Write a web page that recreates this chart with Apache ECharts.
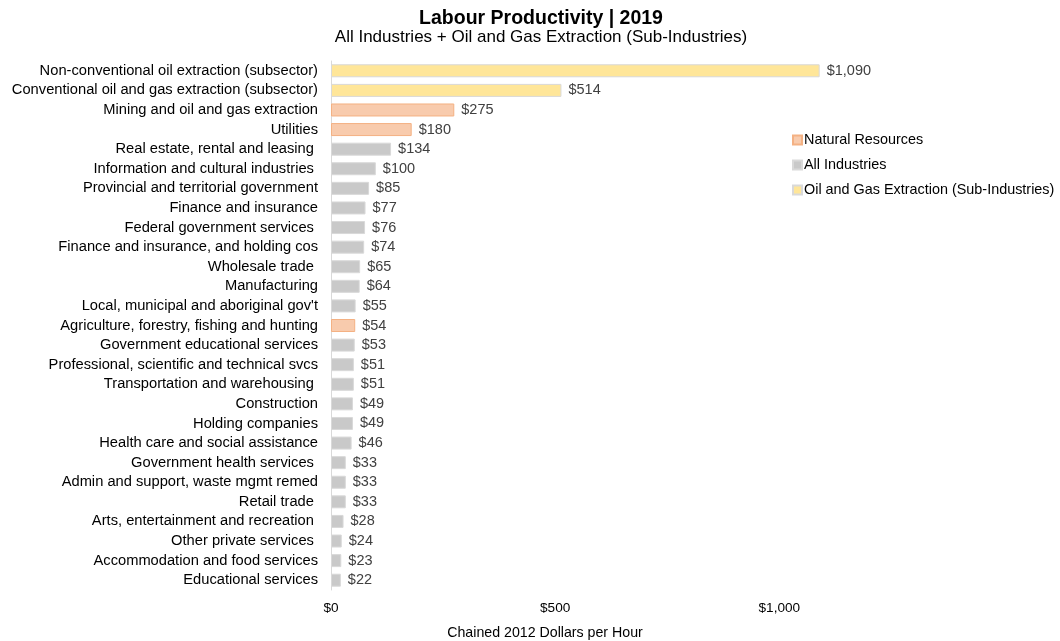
<!DOCTYPE html>
<html>
<head>
<meta charset="utf-8">
<script src="https://cdn.jsdelivr.net/npm/echarts@6/dist/echarts.min.js"></script>
<style>
  html, body { margin: 0; padding: 0; background: #fff; }
  #chart { width: 1060px; height: 641px; }
</style>
</head>
<body>
<div id="chart"></div>
<script>
const categories = [
  'Non-conventional oil extraction (subsector)',
  'Conventional oil and gas extraction (subsector)',
  'Mining and oil and gas extraction',
  'Utilities',
  'Real estate, rental and leasing ',
  'Information and cultural industries ',
  'Provincial and territorial government',
  'Finance and insurance',
  'Federal government services ',
  'Finance and insurance, and holding cos',
  'Wholesale trade ',
  'Manufacturing',
  "Local, municipal and aboriginal gov't",
  'Agriculture, forestry, fishing and hunting',
  'Government educational services',
  'Professional, scientific and technical svcs',
  'Transportation and warehousing ',
  'Construction',
  'Holding companies',
  'Health care and social assistance',
  'Government health services ',
  'Admin and support, waste mgmt remed',
  'Retail trade ',
  'Arts, entertainment and recreation ',
  'Other private services ',
  'Accommodation and food services',
  'Educational services'
]
const values = [1090, 514, 275, 180, 134, 100, 85, 77, 76, 74, 65, 64, 55, 54, 53, 51, 51, 49, 49, 46, 33, 33, 33, 28, 24, 23, 22]
// which series each row belongs to
const groups = ['oil', 'oil', 'nr', 'nr', 'all', 'all', 'all', 'all', 'all', 'all', 'all', 'all', 'all', 'nr',
  'all', 'all', 'all', 'all', 'all', 'all', 'all', 'all', 'all', 'all', 'all', 'all', 'all']
const xTicks = [0, 500, 1000]

const seriesDefs = [
  { key: 'nr', name: 'Natural Resources', color: '#F8CBAD', border: '#F4B183' },
  { key: 'all', name: 'All Industries', color: '#C9C9C9', border: '#D9D9D9' },
  { key: 'oil', name: 'Oil and Gas Extraction (Sub-Industries)', color: '#FFE699', border: '#D9D9D9' }
]

const money = v => '$' + v.toLocaleString('en-US')

const chart = echarts.init(document.getElementById('chart'))

const options = {
  animation: false,
  textStyle: { fontFamily: 'Liberation Sans, Arial, sans-serif' },
  title: {
    text: 'Labour Productivity | 2019',
    subtext: 'All Industries + Oil and Gas Extraction (Sub-Industries)',
    left: 541,
    textAlign: 'center',
    top: 9,
    padding: 0,
    itemGap: 0,
    textStyle: { fontSize: 19.5, fontWeight: 'bold', color: '#000' },
    subtextStyle: { fontSize: 17, color: '#000' }
  },
  legend: {
    orient: 'vertical',
    left: 787,
    top: 128,
    itemWidth: 9,
    itemHeight: 9,
    itemGap: 11,
    textStyle: { fontSize: 14.4, color: '#000', padding: [0, 0, 0, -3] },
    data: seriesDefs.map(s => ({ name: s.name, icon: 'rect' }))
  },
  grid: { left: 331, right: 191, top: 61, bottom: 51, outerBoundsMode: 'none' },
  xAxis: {
    type: 'value',
    min: 0,
    max: 1200,
    interval: 500,
    name: 'Chained 2012 Dollars per Hour',
    nameLocation: 'middle',
    nameGap: 36,
    nameTextStyle: { fontSize: 14.2, color: '#000', padding: [0, 110, 0, 0] },
    axisLine: { show: false },
    axisTick: { show: false },
    splitLine: { show: false },
    axisLabel: {
      fontSize: 13.6,
      color: '#000',
      margin: 11,
      formatter: v => xTicks.includes(v) ? money(v) : ''
    }
  },
  yAxis: {
    type: 'category',
    inverse: true,
    data: categories,
    axisLine: { show: true, lineStyle: { color: '#D9D9D9', width: 1 } },
    axisTick: { show: false },
    axisLabel: { fontSize: 14.7, color: '#000', margin: 13, interval: 0 }
  },
  series: seriesDefs.map(s => ({
    name: s.name,
    type: 'bar',
    stack: 'total',
    barWidth: 13,
    itemStyle: { color: s.color, borderColor: s.border, borderWidth: 1 },
    label: {
      show: true,
      position: 'right',
      distance: 7,
      fontSize: 14.5,
      color: '#404040',
      formatter: p => money(p.value)
    },
    data: values.map((v, i) => groups[i] === s.key ? v : '-')
  }))
}

chart.setOption(options)
</script>
</body>
</html>
